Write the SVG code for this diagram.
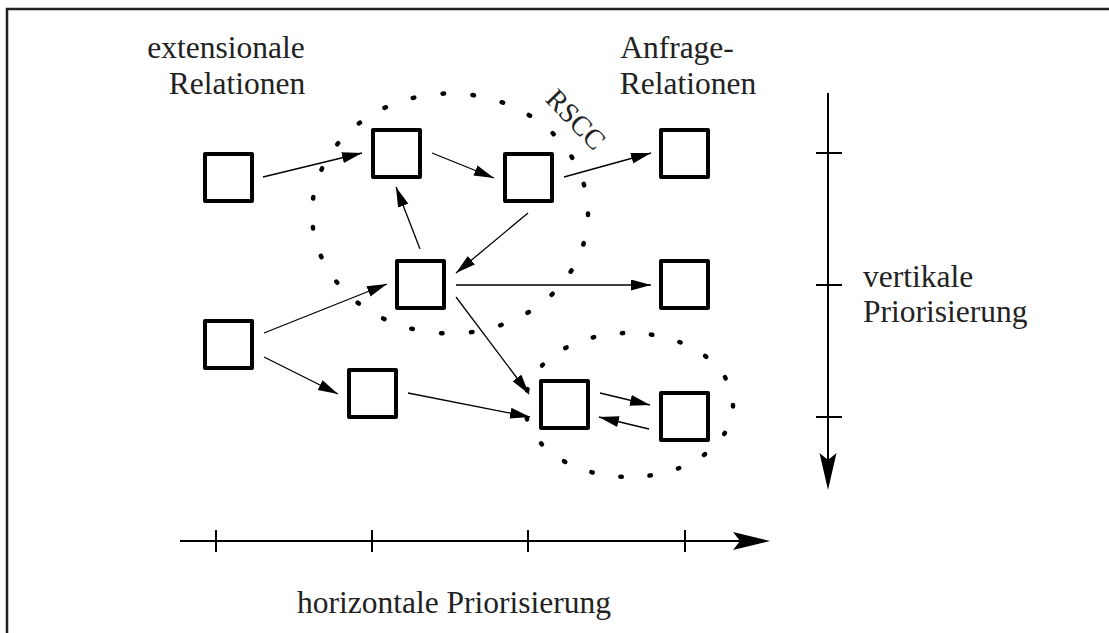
<svg xmlns="http://www.w3.org/2000/svg" width="1109" height="633" viewBox="0 0 1109 633">
<defs>
<style>
.box{fill:#fff;stroke:#000;stroke-width:4;stroke-linejoin:round}
.edge{stroke:#000;stroke-width:1.3;fill:none;marker-end:url(#ah)}
.axis{stroke:#000;stroke-width:2;fill:none}
.dots{fill:none;stroke:#000;stroke-width:4.5;stroke-linecap:round}
.t{font-size:31.5px;fill:#222}
</style>
<marker id="ah" markerUnits="userSpaceOnUse" markerWidth="22" markerHeight="12" refX="20" refY="5.5" orient="auto">
<path d="M0,0 L20,5.5 L0,11 z" fill="#000"/>
</marker>
</defs>
<rect width="1109" height="633" fill="#fff"/>
<path d="M7,640 L7,9 L1120,9" fill="none" stroke="#222" stroke-width="2.5"/>

<g id="rscc-ellipse">
<ellipse class="dots" cx="450" cy="213.5" rx="138" ry="120" pathLength="270" stroke-dasharray="0.5 9.5"/>
<text class="t" font-family="Liberation Serif, Times New Roman, serif" transform="translate(569,126) rotate(46)" text-anchor="middle" style="font-size:28px">RSCC</text>
</g>
<g id="scc-ellipse">
<ellipse class="dots" cx="629" cy="405" rx="104" ry="72" pathLength="190" stroke-dasharray="0.5 9.5"/>
</g>

<g id="connectors">
<line class="edge" x1="263" y1="177" x2="362" y2="153"/>
<line class="edge" x1="432" y1="153" x2="494" y2="178"/>
<line class="edge" x1="564" y1="177" x2="651" y2="153"/>
<line class="edge" x1="528" y1="213" x2="456" y2="273"/>
<line class="edge" x1="420" y1="249" x2="396" y2="187"/>
<line class="edge" x1="456" y1="285" x2="651" y2="285"/>
<line class="edge" x1="264" y1="333" x2="387" y2="284"/>
<line class="edge" x1="264" y1="357" x2="338" y2="394"/>
<line class="edge" x1="408" y1="393" x2="530" y2="417"/>
<line class="edge" x1="456" y1="297" x2="529" y2="394"/>
<line class="edge" x1="600" y1="393" x2="650" y2="405"/>
<line class="edge" x1="649" y1="429" x2="599" y2="417"/>
</g>

<g id="nodeA"><rect class="box" x="205" y="154" width="47" height="47"/></g>
<g id="nodeB"><rect class="box" x="373" y="130" width="47" height="47"/></g>
<g id="nodeC"><rect class="box" x="505" y="154" width="47" height="47"/></g>
<g id="nodeD"><rect class="box" x="661" y="130" width="47" height="47"/></g>
<g id="nodeE"><rect class="box" x="397" y="261" width="47" height="47"/></g>
<g id="nodeF"><rect class="box" x="661" y="261" width="47" height="47"/></g>
<g id="nodeG"><rect class="box" x="205" y="321" width="47" height="47"/></g>
<g id="nodeH"><rect class="box" x="349" y="370" width="47" height="47"/></g>
<g id="nodeI"><rect class="box" x="541" y="381" width="47" height="47"/></g>
<g id="nodeJ"><rect class="box" x="661" y="393" width="47" height="47"/></g>

<g id="labels" font-family="Liberation Serif, Times New Roman, serif">
<text class="t" x="226" y="58" text-anchor="middle">extensionale</text>
<text class="t" x="237" y="94" text-anchor="middle">Relationen</text>
<text class="t" x="677" y="58" text-anchor="middle">Anfrage-</text>
<text class="t" x="688" y="94" text-anchor="middle">Relationen</text>
</g>

<g id="vertical-axis">
<line class="axis" x1="828" y1="93" x2="828" y2="470"/>
<path d="M828,490 L819.5,453 L828,460 L836.5,453 z" fill="#000"/>
<line class="axis" x1="816" y1="153" x2="842" y2="153"/>
<line class="axis" x1="816" y1="285" x2="842" y2="285"/>
<line class="axis" x1="816" y1="417" x2="842" y2="417"/>
<text class="t" font-family="Liberation Serif, Times New Roman, serif" x="863" y="287">vertikale</text>
<text class="t" font-family="Liberation Serif, Times New Roman, serif" x="863" y="322">Priorisierung</text>
</g>

<g id="horizontal-axis">
<line class="axis" x1="180" y1="541" x2="750" y2="541"/>
<path d="M770,541 L733,532 L740,541 L733,550 z" fill="#000"/>
<line class="axis" x1="216" y1="530" x2="216" y2="552"/>
<line class="axis" x1="372" y1="530" x2="372" y2="552"/>
<line class="axis" x1="528" y1="530" x2="528" y2="552"/>
<line class="axis" x1="685" y1="530" x2="685" y2="552"/>
<text class="t" font-family="Liberation Serif, Times New Roman, serif" x="297" y="613">horizontale Priorisierung</text>
</g>
</svg>
